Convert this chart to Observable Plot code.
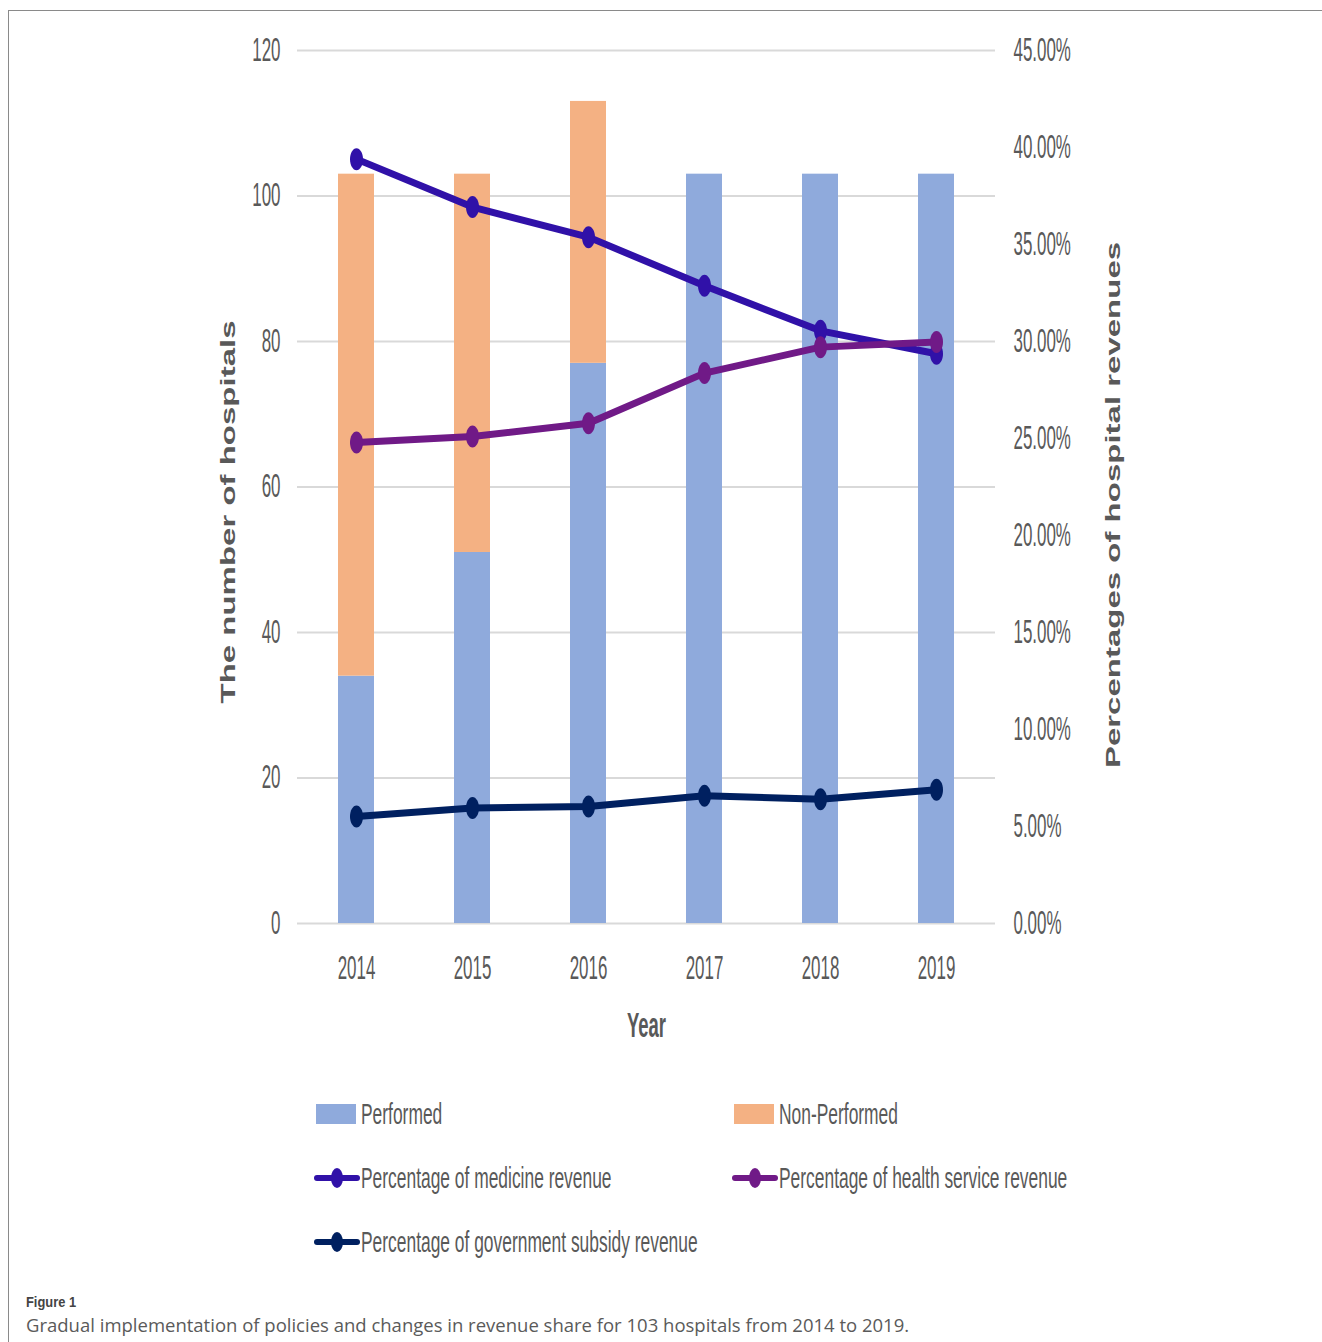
<!DOCTYPE html>
<html>
<head>
<meta charset="utf-8">
<script src="https://cdn.jsdelivr.net/npm/d3@7"></script>
<script src="https://cdn.jsdelivr.net/npm/@observablehq/plot@0.6"></script>
<style>
  html, body { margin: 0; padding: 0; background: #fff; }
  body { width: 1322px; height: 1342px; position: relative; overflow: hidden; font-family: "Liberation Sans", Arial, sans-serif; }
  #frame { position: absolute; left: 8px; top: 10px; right: -2px; bottom: -2px; border-left: 1.5px solid #8a8a8a; border-top: 1.5px solid #8a8a8a; }
  #chart { position: absolute; left: 0; top: 0; }
  .legend-item { position: absolute; height: 30px; display: flex; align-items: center; white-space: nowrap; }
  .legend-item svg { flex: none; }
  .legend-item span { display: inline-block; font-size: 20px; color: #595959; transform: scale(0.87, 1.45); transform-origin: 0 50%; margin-left: 1px; }
  .fig-label { position: absolute; left: 26px; top: 1293px; font-weight: bold; font-size: 14px; color: #444; transform: scale(0.92, 1.1); transform-origin: 0 0; }
  .fig-caption { position: absolute; left: 26px; top: 1312px; font-family: "Open Sans", sans-serif; font-size: 18.5px; color: #5a5a5a; white-space: nowrap; }
</style>
</head>
<body>
<div id="frame"></div>
<div id="chart"></div>
<div id="legend"></div>
<div class="fig-label">Figure 1</div>
<div class="fig-caption">Gradual implementation of policies and changes in revenue share for 103 hospitals from 2014 to 2019.</div>
<script>
// Hospitals implementing the policy, by year
const years = ["2014", "2015", "2016", "2017", "2018", "2019"];
const performed = [34, 51, 77, 103, 103, 103];
const nonPerformed = [69, 52, 36, 0, 0, 0];

// Revenue shares (%) on the secondary axis
const medicineShare = [39.40, 36.93, 35.38, 32.87, 30.55, 29.37];
const serviceShare = [24.79, 25.10, 25.79, 28.37, 29.71, 29.97];
const subsidyShare = [5.52, 5.95, 6.03, 6.58, 6.41, 6.89];

// Axis ticks
const hospitalTicks = [0, 20, 40, 60, 80, 100, 120];
const shareTicks = [0, 5, 10, 15, 20, 25, 30, 35, 40, 45];

// Titles
const leftTitle = "The number of hospitals";
const rightTitle = "Percentages of hospital revenues";
const xTitle = "Year";

const statusNames = ["Performed", "Non-Performed"];
const statusColors = ["#8FAADC", "#F4B183"];
const seriesNames = [
  "Percentage of medicine revenue",
  "Percentage of health service revenue",
  "Percentage of government subsidy revenue"
];
const seriesColors = ["#3011A8", "#701A87", "#002060"];
const seriesValues = [medicineShare, serviceShare, subsidyShare];

// Both axes share the plot height: 45% lines up with 120 hospitals
const k = d3.max(hospitalTicks) / d3.max(shareTicks);

const barRows = years.flatMap((year, i) => [
  {year, status: statusNames[0], count: performed[i]},
  {year, status: statusNames[1], count: nonPerformed[i]}
]);

// Tall oval marker used on each revenue line
const oval = {
  draw(context) {
    const rx = 6.5, ry = 11, c = 0.5523;
    context.moveTo(0, -ry);
    context.bezierCurveTo(c * rx, -ry, rx, -c * ry, rx, 0);
    context.bezierCurveTo(rx, c * ry, c * rx, ry, 0, ry);
    context.bezierCurveTo(-c * rx, ry, -rx, c * ry, -rx, 0);
    context.bezierCurveTo(-rx, -c * ry, -c * rx, -ry, 0, -ry);
    context.closePath();
  }
};

const lineMarks = seriesValues.map((values, s) => {
  const rows = years.map((year, i) => ({year, value: values[i]}));
  return [
    Plot.line(rows, {x: "year", y: d => d.value * k, stroke: seriesColors[s], strokeWidth: 7}),
    Plot.dot(rows, {x: "year", y: d => d.value * k, fill: seriesColors[s], symbol: oval})
  ];
});
// subsidy first, then medicine, then health service on top where the lines cross
const orderedLines = [...lineMarks[2], ...lineMarks[0], ...lineMarks[1]];

const chart = Plot.plot({
  width: 1322,
  height: 1060,
  marginTop: 50,
  marginBottom: 137,
  marginLeft: 297,
  marginRight: 327,
  style: {fontFamily: "Liberation Sans, Arial, sans-serif", fontSize: "22px", color: "#595959", background: "transparent", overflow: "visible"},
  x: {domain: years, paddingInner: 0.69, paddingOuter: 0.345},
  y: {domain: [0, 120]},
  color: {domain: statusNames, range: statusColors},
  marks: [
    Plot.ruleY(hospitalTicks, {stroke: "#D9D9D9", strokeWidth: 2}),
    Plot.barY(barRows, {x: "year", y: "count", fill: "status"}),
    Plot.axisY(hospitalTicks, {anchor: "left", tickSize: 0, tickPadding: 17, label: null}),
    Plot.axisY(shareTicks.map(p => p * k), {anchor: "right", tickSize: 0, tickPadding: 18, label: null,
      tickFormat: v => (v / k).toFixed(2) + "%"}),
    Plot.axisX({anchor: "bottom", tickSize: 0, tickPadding: 32, label: null}),
    ...orderedLines,
    Plot.text([leftTitle], {frameAnchor: "left", textAnchor: "middle", dx: -69, dy: 25, rotate: -90,
      fontWeight: "bold", fontSize: 22}),
    Plot.text([rightTitle], {frameAnchor: "right", textAnchor: "middle", dx: 118, dy: 18, rotate: -90,
      fontWeight: "bold", fontSize: 22}),
    Plot.text([xTitle], {frameAnchor: "bottom", textAnchor: "middle", lineAnchor: "top", dy: 89,
      fontWeight: "bold", fontSize: 24})
  ]
});

// Narrow, tall lettering for the chart text
function stretchText(el, sx, sy) {
  let t = el.getAttribute("transform");
  if (!t) {
    const x = +el.getAttribute("x") || 0;
    t = `translate(${x},0)`;
    el.removeAttribute("x");
  }
  el.setAttribute("transform", `${t} scale(${sx},${sy})`);
}
chart.querySelectorAll('g[aria-label="y-axis tick label"] text, g[aria-label="x-axis tick label"] text')
  .forEach(el => stretchText(el, 0.77, 1.48));
chart.querySelectorAll("text").forEach(el => {
  const s = el.textContent;
  if (s === leftTitle || s === rightTitle) stretchText(el, 1.5, 0.95);
  else if (s === xTitle) stretchText(el, 0.77, 1.45);
});

document.getElementById("chart").appendChild(chart);

// Legend below the chart
const legend = document.getElementById("legend");
const legendItems = [
  {label: statusNames[0], color: statusColors[0], kind: "swatch", left: 316, mid: 1114},
  {label: statusNames[1], color: statusColors[1], kind: "swatch", left: 734, mid: 1114},
  {label: seriesNames[0], color: seriesColors[0], kind: "line", left: 314, mid: 1178},
  {label: seriesNames[1], color: seriesColors[1], kind: "line", left: 732, mid: 1178},
  {label: seriesNames[2], color: seriesColors[2], kind: "line", left: 314, mid: 1242}
];
for (const item of legendItems) {
  const div = document.createElement("div");
  div.className = "legend-item";
  div.style.left = item.left + "px";
  div.style.top = (item.mid - 15) + "px";
  const icon = item.kind === "swatch"
    ? `<svg width="44" height="30"><rect x="0" y="5" width="40" height="20" fill="${item.color}"/></svg>`
    : `<svg width="46" height="30"><line x1="3" x2="43" y1="15" y2="15" stroke="${item.color}" stroke-width="6" stroke-linecap="round"/><ellipse cx="23" cy="15" rx="6" ry="10" fill="${item.color}"/></svg>`;
  div.innerHTML = icon + `<span>${item.label}</span>`;
  legend.appendChild(div);
}
</script>
</body>
</html>
